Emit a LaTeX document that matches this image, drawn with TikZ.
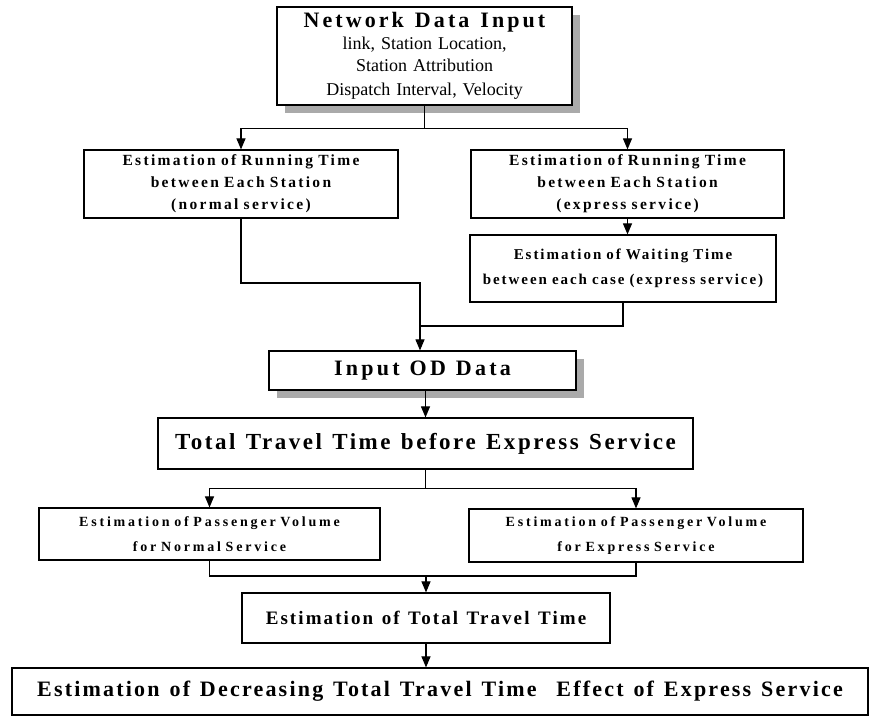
\documentclass[tikz,border=0pt]{standalone}
\usepackage{fontspec}
\setmainfont{Liberation Serif}
\usepackage{tikz}
\usetikzlibrary{arrows.meta, positioning, calc, shadows}
\definecolor{shade}{RGB}{170,170,170}
\newcommand{\sz}[2]{\fontsize{#1}{#2}\selectfont}
\newcommand{\spread}[1]{\addfontfeature{LetterSpace=#1}\spaceskip=0.45em}

\tikzset{
  box/.style={draw, line width=1.2pt, fill=white, align=center, inner sep=2pt},
  shadowed/.style={drop shadow={shadow xshift=8pt, shadow yshift=-8pt, fill=shade, opacity=1}},
  flow/.style={line width=1.1pt, -{Triangle[length=11pt,width=9pt]}},
  link/.style={line width=1.1pt},
  runtext/.style={font=\bfseries\sz{15.5}{22}\spread{15}},
  paxtext/.style={font=\bfseries\sz{14}{25}\spread{20}},
}

\begin{document}
\begin{tikzpicture}[x=1pt, y=-1pt]
  \useasboundingbox (0,0) rectangle (885,718);

  % Input block
  \node[box, shadowed, minimum width=295pt, minimum height=98pt, text width=290pt, font=\sz{18}{22}] (net) at (424.5,56)
    {{\bfseries\sz{22}{24}\spread{14}Network\hspace{11pt}Data\hspace{11pt}Input}\\
     link, Station Location,\\ Station Attribution\\[2pt] Dispatch Interval, Velocity};

  % Running and waiting time
  \node[box, runtext, minimum width=314pt, minimum height=68pt, text width=308pt] (runN) at (241,184)
    {Estimation of Running Time\\ between Each Station\\ (normal service)};
  \node[box, runtext, minimum width=313pt, minimum height=68pt, text width=308pt] (runE) at (627.5,184)
    {Estimation of Running Time\\ between Each Station\\ (express service)};
  \node[box, minimum width=304pt, minimum height=67pt, text width=302pt, font=\bfseries\sz{15}{25}\spread{13}] (wait) at (623,268.5)
    {Estimation of Waiting Time\\ between each case (express service)};

  % OD and totals
  \node[box, shadowed, minimum width=307pt, minimum height=39pt, font=\bfseries\sz{22}{24}\spread{15}] (od) at (422.5,370.5)
    {Input OD Data};
  \node[box, minimum width=535pt, minimum height=51pt, font=\bfseries\sz{23}{24}\spread{11}] (total) at (425.5,443.5)
    {Total Travel Time before Express Service};

  % Passenger volume
  \node[box, paxtext, minimum width=341pt, minimum height=52pt, text width=337pt] (pasN) at (209.5,534)
    {Estimation of Passenger Volume\\ for Normal Service};
  \node[box, paxtext, minimum width=334pt, minimum height=53pt, text width=330pt] (pasE) at (636,535.5)
    {Estimation of Passenger Volume\\ for Express Service};

  % Results
  \node[box, minimum width=368pt, minimum height=50pt, font=\bfseries\sz{19}{22}\spread{11}] (est) at (426,618)
    {Estimation of Total Travel Time};
  \node[box, minimum width=856pt, minimum height=47pt, font=\bfseries\sz{22}{24}\spread{10}] (dec) at (440,691.5)
    {Estimation of Decreasing Total Travel Time\ \ Effect of Express Service};

  % connectors
  \draw[link] (net.south) -- ++(0,23) coordinate (split);
  \draw[flow] (split) -| (runN.north);
  \draw[flow] (split) -| (runE.north);
  \draw[flow] (runE.south) -- (runE.south |- wait.north);

  \coordinate (bendL) at (420,283);
  \coordinate (joinW) at (420,326);
  \draw[flow] (runN.south) |- (bendL) -- (bendL |- od.north);
  \draw[link] (wait.south) |- (joinW);

  \draw[flow] (total.north |- od.south) -- (total.north);
  \draw[link] (total.south) -- ++(0,19) coordinate (split2);
  \draw[flow] (split2) -| (pasN.north);
  \draw[flow] (split2) -| (pasE.north);

  \coordinate (join2) at (426,576);
  \draw[link] (pasN.south) |- (join2) -| (pasE.south);
  \draw[flow] (join2) -- (est.north);
  \draw[flow] (est.south) -- (est.south |- dec.north);
\end{tikzpicture}
\end{document}
